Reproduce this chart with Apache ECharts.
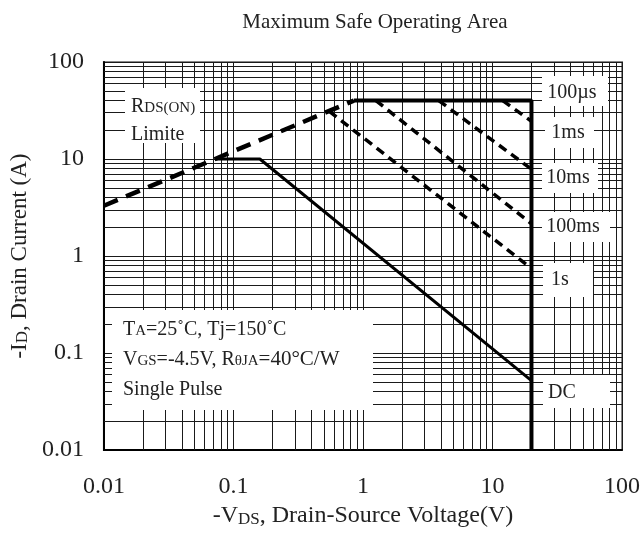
<!DOCTYPE html>
<html>
<head>
<meta charset="utf-8">
<script src="https://cdn.jsdelivr.net/npm/echarts@6/dist/echarts.min.js"></script>
<style>
html,body{margin:0;padding:0;background:#fff;}
#chart{width:643px;height:533px;}
</style>
</head>
<body>
<div id="chart"></div>
<script>
// ---- data ----
const xTickLabels = ['0.01', '0.1', '1', '10', '100'];
const yTickLabels = ['0.01', '0.1', '1', '10', '100'];
const xMinorGrid = [0.02,0.03,0.04,0.05,0.06,0.07,0.08,0.09,0.2,0.3,0.4,0.5,0.6,0.7,0.8,0.9,2,3,4,5,6,7,8,9,20,30,40,50,60,70,80,90];
const yMinorGrid = [0.02,0.03,0.04,0.05,0.06,0.07,0.08,0.09,0.2,0.3,0.4,0.5,0.6,0.7,0.8,0.9,2,3,4,5,6,7,8,9,20,30,40,50,60,70,80,90];

const rdsV = [0.01, 0.85];
const rdsI = [3.3, 40];
const limitV = [0.85, 20, 20];
const limitI = [40, 40, 0.01];
const dcV = [0.072, 0.16, 20];
const dcI = [10, 10, 0.052];
const p1msV = [12, 20];
const p1msI = [40, 24.5];
const p10msV = [3.85, 20];
const p10msI = [40, 7.85];
const p100msV = [1.26, 20];
const p100msI = [40, 2.15];
const p1sV = [0.55, 20];
const p1sI = [31, 0.745];

const FONT = 'Liberation Serif';
const TXT = '#222';
const GRID = '#1a1a1a';

function pairs(xs, ys) { return xs.map((x, i) => [x, ys[i]]); }
function tickIndex(v) { return Math.round(Math.log10(v)) + 2; }

const chart = echarts.init(document.getElementById('chart'), null, {renderer: 'canvas'});

function dashed(name, xs, ys, width, dash) {
  return {
    name: name, type: 'line', data: pairs(xs, ys), symbol: 'none', z: 5,
    lineStyle: {color: '#000', width: width, type: dash, cap: 'butt'},
    silent: true
  };
}

function label(text, x, y) {
  return {
    type: 'text', x: x, y: y, z: 101,
    style: {text: text, fill: TXT, fontFamily: FONT, fontSize: 20,
            align: 'center', verticalAlign: 'middle'}
  };
}
function box(x, y, w, h) {
  return {type: 'rect', z: 100, shape: {x: x, y: y, width: w, height: h}, style: {fill: '#fff'}};
}

const smallRich = {
  s: {fontFamily: FONT, fontSize: 15, fill: TXT, verticalAlign: 'bottom', padding: [0,0,1,0]},
  n: {fontFamily: FONT, fontSize: 20, fill: TXT, verticalAlign: 'bottom'},
  b: {fontFamily: FONT, fontSize: 21, fill: TXT, verticalAlign: 'bottom'}
};

const option = {
  animation: false,
  backgroundColor: '#fff',
  grid: {left: 102, right: 18, top: 62, bottom: 80, show: true, borderColor: '#888', borderWidth: 2},
  xAxis: {
    type: 'log', logBase: 10, min: 0.01, max: 100,
    axisLine: {show: true, onZero: false, lineStyle: {color: '#000', width: 2}},
    axisTick: {show: false},
    splitLine: {show: true, lineStyle: {color: GRID, width: 1}},
    axisLabel: {margin: 25, fontFamily: FONT, fontSize: 24, color: TXT,
                formatter: v => xTickLabels[tickIndex(v)]},
    name: '-V{s|DS}{n|, Drain-Source Voltage(V)}',
    nameLocation: 'middle', nameGap: 53,
    nameTextStyle: {fontFamily: FONT, fontSize: 24, color: TXT,
      rich: {s: {fontFamily: FONT, fontSize: 17, color: TXT, verticalAlign: 'bottom'},
             n: {fontFamily: FONT, fontSize: 24, color: TXT, verticalAlign: 'bottom'}}}
  },
  yAxis: {
    type: 'log', logBase: 10, min: 0.01, max: 100,
    axisLine: {show: true, onZero: false, lineStyle: {color: '#000', width: 2}},
    axisTick: {show: false},
    splitLine: {show: true, lineStyle: {color: GRID, width: 1}},
    axisLabel: {margin: 20, fontFamily: FONT, fontSize: 24, color: TXT,
                formatter: v => yTickLabels[tickIndex(v)]},
    name: '-I{s|D}{n|, Drain Current (A)}',
    nameLocation: 'middle', nameGap: 68,
    nameTextStyle: {fontFamily: FONT, fontSize: 23, color: TXT,
      rich: {s: {fontFamily: FONT, fontSize: 17, color: TXT, verticalAlign: 'bottom'},
             n: {fontFamily: FONT, fontSize: 23, color: TXT, verticalAlign: 'bottom'}}}
  },
  series: [
    {
      name: 'minorGrid', type: 'line', data: [], z: 1, silent: true,
      markLine: {
        silent: true, symbol: ['none', 'none'], label: {show: false}, animation: false,
        lineStyle: {color: GRID, width: 1, type: 'solid'},
        emphasis: {disabled: true},
        data: xMinorGrid.map(v => ({xAxis: v})).concat(yMinorGrid.map(v => ({yAxis: v})))
      }
    },
    dashed('RDS(on) limit', rdsV, rdsI, 4.5, [15, 9]),
    {name: 'limit', type: 'line', data: pairs(limitV, limitI), symbol: 'none', z: 6, silent: true,
     lineStyle: {color: '#000', width: 4, type: 'solid'}},
    {name: 'DC', type: 'line', data: pairs(dcV, dcI), symbol: 'none', z: 6, silent: true,
     lineStyle: {color: '#000', width: 3, type: 'solid'}},
    dashed('1ms', p1msV, p1msI, 3.5, [9, 6]),
    dashed('10ms', p10msV, p10msI, 3.5, [9, 6]),
    dashed('100ms', p100msV, p100msI, 3.5, [9, 6]),
    dashed('1s', p1sV, p1sI, 3.5, [9, 6])
  ],
  graphic: [
    {type: 'text', x: 375, y: 22, z: 101,
     style: {text: 'Maximum Safe Operating Area', fill: TXT, fontFamily: FONT, fontSize: 21,
             align: 'center', verticalAlign: 'middle'}},
    box(125, 88, 75, 55),
    {type: 'text', x: 131, y: 107, z: 101,
     style: {text: '{n|R}{s|DS(ON)}', fontFamily: FONT, fontSize: 20, fill: TXT,
             align: 'left', verticalAlign: 'middle', rich: smallRich}},
    {type: 'text', x: 131, y: 135, z: 101,
     style: {text: 'Limite', fontFamily: FONT, fontSize: 20, fill: TXT,
             align: 'left', verticalAlign: 'middle'}},
    box(542, 76, 66, 30), label('100µs', 572, 93),
    box(545, 117, 49, 31), label('1ms', 568, 133),
    box(542, 163, 56, 30), label('10ms', 568, 178),
    box(542, 212, 68, 30), label('100ms', 573, 227),
    box(543, 263, 50, 34), label('1s', 560, 280),
    box(543, 375, 67, 33), label('DC', 562, 393),
    box(112, 310, 261, 100),
    {type: 'text', x: 123, y: 330, z: 101,
     style: {text: '{n|T}{s|A}{n|=25˚C, Tj=150˚C}', fontFamily: FONT, fontSize: 20, fill: TXT,
             align: 'left', verticalAlign: 'middle', rich: smallRich}},
    {type: 'text', x: 123, y: 359, z: 101,
     style: {text: '{n|V}{s|GS}{n|=-4.5V, R}{s|θJA}{b|=40°C/W}', fontFamily: FONT, fontSize: 20, fill: TXT,
             align: 'left', verticalAlign: 'middle', rich: smallRich}},
    {type: 'text', x: 123, y: 390, z: 101,
     style: {text: 'Single Pulse', fontFamily: FONT, fontSize: 20, fill: TXT,
             align: 'left', verticalAlign: 'middle'}}
  ]
};
chart.setOption(option);
</script>
</body>
</html>
